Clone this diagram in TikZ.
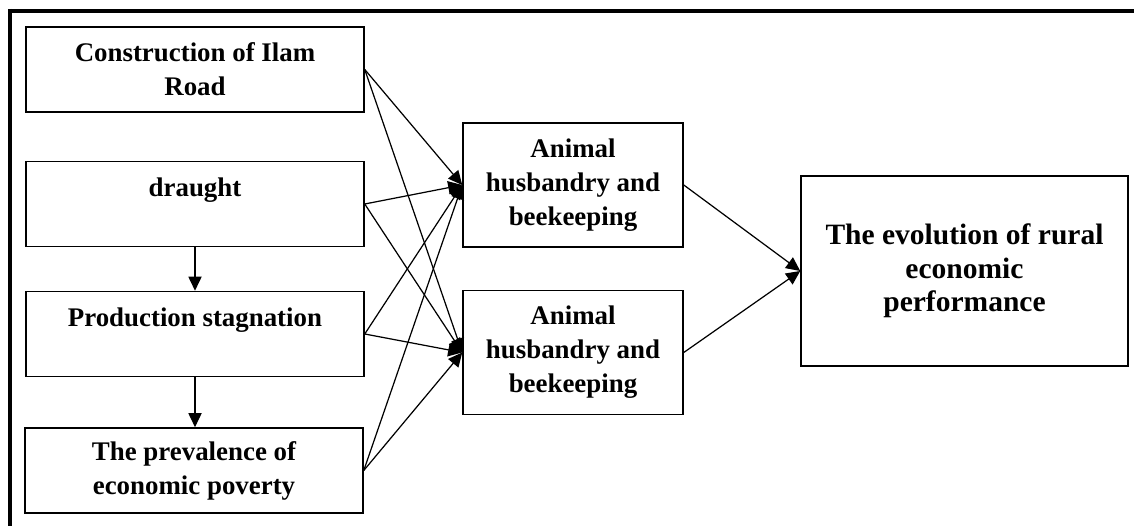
\documentclass[tikz,border=0pt]{standalone}
\usepackage{fontspec}
\setmainfont{Liberation Serif}
\usepackage{tikz}
\usetikzlibrary{shapes,arrows,arrows.meta}

\tikzset{
  box/.style = {draw, line width=0.9pt, align=center, inner sep=0pt,
                font=\bfseries\fontsize{15.3}{19.3}\selectfont},
  leftbox/.style = {box, minimum width=6.76cm, minimum height=1.7cm},
  midbox/.style = {box, minimum width=4.4cm, minimum height=2.48cm},
  link/.style = {line width=0.7pt, -{Triangle[length=8pt,width=7.5pt]}}
}

\begin{document}
\begin{tikzpicture}[x=0.02cm, y=-0.02cm]
   \useasboundingbox (0,0) rectangle (1134,526);
   % frame
   \draw[line width=2.3pt] (8,11) -- (1134,11);
   \draw[line width=2.3pt] (10,9) -- (10,526);
   % left column
   \node[leftbox] (road) at (195,69.5) {Construction of Ilam\\Road};
   \node[leftbox] (draught) at (195,204) {draught\\\mbox{}};
   \node[leftbox] (stag) at (195,334) {Production stagnation\\\mbox{}};
   \node[leftbox] (poverty) at (194,470.5) {The prevalence of\\economic poverty};
   % middle column
   \node[midbox] (animalA) at (573,185) {Animal\\husbandry and\\beekeeping};
   \node[midbox] (animalB) at (573,352.5) {Animal\\husbandry and\\beekeeping};
   % result
   \node[box, minimum width=6.54cm, minimum height=3.8cm,
         font=\bfseries\fontsize{16.8}{19}\selectfont] (evol) at (964.5,271)
         {The evolution of rural\\economic\\performance};
   % links
   \draw[link] (draught.south) -- (stag.north);
   \draw[link] (stag.south) -- (stag.south |- poverty.north);
   \foreach \src in {road, draught, stag, poverty} {
      \draw[link] (\src.east) -- (animalA.west);
      \draw[link] (\src.east) -- (animalB.west);
   }
   \draw[link] (animalA.east) -- (evol.west);
   \draw[link] (animalB.east) -- (evol.west);
\end{tikzpicture}
\end{document}
